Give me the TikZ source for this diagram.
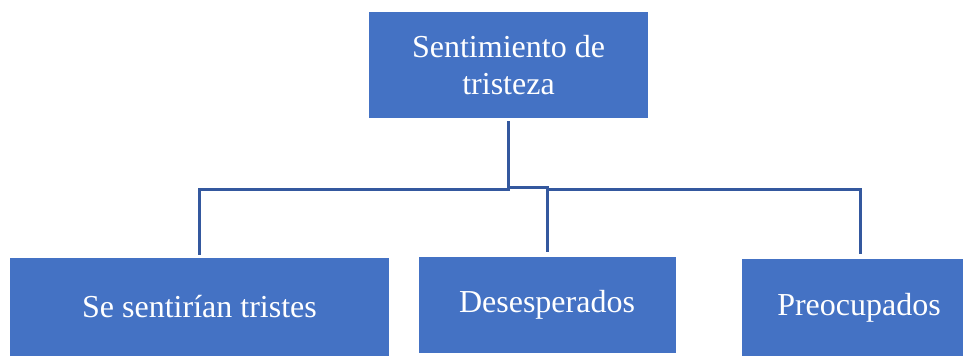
\documentclass[tikz,border=0pt]{standalone}
\usepackage{fontspec}
\setmainfont{Liberation Serif}
\definecolor{boxblue}{RGB}{68,114,196}
\definecolor{linkblue}{RGB}{52,88,158}
\begin{document}
\begin{tikzpicture}[x=1pt,y=-1pt,
  box/.style={rectangle, fill=boxblue, draw=none, text=white, inner sep=0pt,
    font=\fontsize{32}{39}\selectfont, align=center},
  conn/.style={draw=linkblue, line width=3pt}]
\useasboundingbox (0,0) rectangle (965,356);
\node[box, minimum width=279pt, minimum height=106pt] (t) at (508.5,65) {\raisebox{-2pt}{Sentimiento de}\\tristeza};
\node[box, minimum width=379pt, minimum height=98pt] (a) at (199.5,307) {Se sentirían tristes};
\node[box, minimum width=257pt, minimum height=96pt] (b) at (547,304.5) {\raisebox{-4pt}{Desesperados}};
\node[box, minimum width=221pt, minimum height=97pt] (c) at (852,307.5) {\hspace*{14pt}Preocupados};
\coordinate (j) at (509,189);
\coordinate (k) at (509,187);
\coordinate (cr) at (860,258);
\draw[conn, shorten <=3pt, shorten >=3pt] (t.south) -- (t.south|-j) -| (a.north);
\draw[conn, shorten >=4pt] (k) -| (b.north);
\draw[conn, shorten >=4pt] (b.north|-j) -| (cr);
\end{tikzpicture}
\end{document}
